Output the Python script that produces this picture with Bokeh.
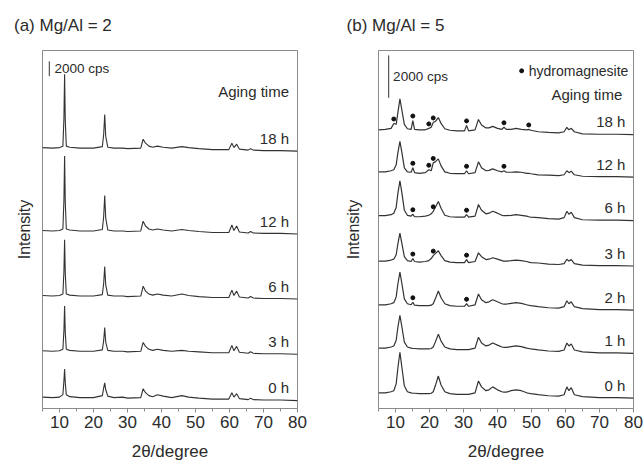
import numpy as np
from bokeh.plotting import figure
from bokeh.layouts import row
from bokeh.models import Range1d, FixedTicker, Label, LinearAxis
from bokeh.embed import file_html
from bokeh.resources import INLINE

FONT = "Liberation Sans"
TXT = "#2b2b2b"
LINE = "#333333"
FRAME = "#8a8a8a"

# ---------------- (a) Mg/Al = 2 ----------------
TWO_THETA_A = [5, 8, 10, 11.0, 11.3, 11.5, 11.7, 12.0, 13, 16, 20, 22.6, 23.0, 23.3, 23.6, 24.2,
               26, 28.6, 30, 33.9, 34.6, 35.3, 36.3, 37.4, 38.8, 40.5, 43, 46, 48, 51, 55,
               59.8, 60.7, 61.3, 62.1, 62.9, 65.5, 66.2, 67, 70, 75, 80]
LABELS_A = ["0 h", "3 h", "6 h", "12 h", "18 h"]
A_0h = [470, 400, 470, 800, 2670, 4270, 2400, 800, 530, 400, 400, 670, 1730, 2400, 1470, 600,
        400, 470, 330, 400, 1600, 1070, 670, 530, 800, 600, 400, 670, 470, 330, 200,
        200, 1070, 470, 930, 270, 130, 330, 130, 70, 70, 0]
A_3h = [470, 400, 470, 670, 3200, 6530, 2930, 670, 530, 400, 400, 600, 1870, 3600, 1600, 530,
        400, 400, 330, 400, 1600, 1070, 670, 530, 670, 530, 400, 530, 400, 330, 200,
        200, 1200, 470, 1070, 270, 130, 330, 130, 70, 70, 0]
A_6h = [470, 400, 470, 670, 3730, 8000, 3470, 670, 530, 400, 400, 600, 2130, 4400, 1870, 530,
        400, 400, 330, 400, 1730, 1070, 670, 530, 670, 530, 400, 670, 470, 330, 200,
        200, 1200, 470, 1070, 270, 130, 330, 130, 70, 70, 0]
A_12h = [470, 400, 470, 670, 4530, 10530, 4270, 670, 530, 400, 400, 600, 2400, 5200, 2130, 530,
         400, 400, 330, 400, 1730, 1070, 670, 530, 670, 530, 400, 600, 470, 330, 200,
         200, 1200, 470, 1070, 270, 130, 330, 130, 70, 70, 0]
A_18h = [470, 400, 470, 670, 4400, 10400, 4130, 670, 530, 400, 400, 600, 2270, 4930, 2000, 530,
         400, 400, 330, 400, 1600, 1070, 670, 530, 670, 530, 400, 600, 470, 330, 200,
         200, 1070, 470, 930, 270, 130, 330, 130, 70, 70, 0]
OFFSETS_A = [1070, 7330, 14800, 23600, 34800]

# ---------------- (b) Mg/Al = 5 ----------------
TWO_THETA_B = [5, 7, 8.7, 9.5, 10.2, 10.7, 11.3, 11.9, 12.6, 13.5, 14.6, 15.1, 15.6, 17, 18.8,
               19.8, 20.5, 21.1, 21.7, 22.6, 23.4, 24.5, 26, 28, 30.3, 30.9, 31.5, 33.4, 34.4, 35.3,
               36.6, 37.5, 38.6, 40, 41.3, 41.9, 42.6, 44, 45.5, 47, 48.6, 49.2, 49.8, 52, 55,
               58, 59.6, 60.4, 61.0, 61.7, 62.6, 65, 70, 75, 80]
LABELS_B = ["0 h", "1 h", "2 h", "3 h", "6 h", "12 h", "18 h"]
B_0h = [230, 230, 280, 330, 650, 1400, 2140, 1400, 560, 280, 230, 210, 210, 190, 190,
        190, 210, 280, 560, 1020, 600, 280, 190, 160, 160, 160, 160, 230, 790, 510,
        330, 370, 510, 370, 280, 260, 260, 330, 370, 330, 230, 210, 190, 140, 90,
        70, 140, 510, 330, 470, 140, 50, 0, 0, -20]
B_1h = [230, 230, 280, 330, 600, 1210, 1770, 1210, 510, 280, 230, 210, 210, 190, 190,
        190, 210, 280, 510, 880, 560, 280, 190, 160, 160, 160, 160, 230, 740, 470,
        330, 370, 470, 370, 280, 260, 260, 300, 330, 300, 230, 210, 190, 140, 90,
        70, 140, 470, 330, 420, 140, 50, 0, 0, -20]
B_2h = [230, 230, 280, 330, 600, 1210, 1770, 1210, 510, 280, 230, 350, 210, 190, 190,
        190, 210, 280, 510, 880, 560, 280, 190, 160, 160, 280, 160, 230, 740, 470,
        330, 370, 470, 370, 280, 260, 260, 300, 330, 300, 230, 210, 190, 140, 90,
        70, 140, 420, 280, 370, 140, 50, 0, 0, -20]
B_3h = [210, 210, 260, 300, 510, 1020, 1530, 1020, 420, 230, 190, 330, 190, 160, 190,
        230, 330, 470, 560, 700, 470, 230, 160, 140, 140, 280, 140, 190, 600, 420,
        280, 300, 370, 300, 230, 210, 210, 230, 260, 230, 190, 160, 140, 120, 70,
        50, 90, 300, 210, 280, 90, 20, 0, 0, -20]
B_6h = [210, 210, 260, 330, 600, 1260, 1860, 1260, 470, 230, 190, 280, 160, 160, 190,
        230, 300, 420, 600, 880, 560, 230, 160, 140, 140, 260, 140, 190, 740, 470,
        300, 330, 420, 330, 230, 210, 210, 230, 260, 230, 190, 160, 140, 120, 70,
        50, 120, 420, 280, 370, 120, 20, 0, 0, -20]
B_12h = [230, 230, 280, 330, 560, 1120, 1670, 1120, 420, 230, 210, 420, 190, 160, 190,
         330, 280, 650, 700, 840, 510, 230, 160, 140, 140, 280, 140, 190, 700, 420,
         280, 300, 370, 280, 230, 280, 210, 210, 230, 210, 160, 160, 140, 90, 70,
         50, 90, 280, 190, 260, 90, 20, 0, 0, -20]
B_18h = [210, 230, 280, 510, 470, 1020, 1670, 1120, 470, 260, 230, 650, 230, 210, 210,
         280, 330, 560, 600, 790, 510, 260, 190, 160, 160, 420, 160, 210, 700, 440,
         300, 300, 370, 280, 230, 330, 230, 230, 280, 230, 210, 230, 190, 120, 90,
         70, 120, 330, 210, 280, 120, 20, 0, 0, -20]
OFFSETS_B = [510, 2620, 4660, 6740, 8880, 10930, 12930]

# hydromagnesite reflections marked on each Mg/Al = 5 pattern (index into LABELS_B)
HM_MARKS = {
    2: [15.1, 30.9],
    3: [15.1, 21.1, 30.9],
    4: [15.1, 21.1, 30.9],
    5: [15.1, 19.8, 21.1, 30.9, 41.9],
    6: [9.5, 15.1, 19.8, 21.1, 30.9, 41.9, 49.2],
}

SERIES_A = [A_0h, A_3h, A_6h, A_12h, A_18h]
SERIES_B = [B_0h, B_1h, B_2h, B_3h, B_6h, B_12h, B_18h]
for s in SERIES_A:
    assert len(s) == len(TWO_THETA_A)
for s in SERIES_B:
    assert len(s) == len(TWO_THETA_B)

X_TICKS = [10, 20, 30, 40, 50, 60, 70, 80]
X_MINOR = [5, 15, 25, 35, 45, 55, 65, 75]


def make_panel(width, bl, br, ymax, label_standoff, title, title_at):
    p = figure(width=width, height=463, output_backend="svg", toolbar_location=None,
               x_range=Range1d(5, 80), y_range=Range1d(0, ymax),
               min_border_left=bl, min_border_right=br, min_border_top=50, min_border_bottom=50)
    p.grid.visible = False
    p.outline_line_color = FRAME
    p.outline_line_width = 1
    p.background_fill_color = "white"
    p.border_fill_color = "white"
    # panel heading, drawn as the single label of a bare top axis
    tax = LinearAxis(ticker=FixedTicker(ticks=[title_at]),
                     major_label_overrides={title_at: title},
                     axis_line_color=None, major_tick_line_color=None,
                     minor_tick_line_color=None, major_tick_out=0, major_tick_in=0,
                     major_label_standoff=16, major_label_text_font=FONT,
                     major_label_text_font_size="17px", major_label_text_color=TXT)
    p.add_layout(tax, "above")
    xa = p.xaxis[0] if p.xaxis[0] is not tax else p.xaxis[1]
    for a in p.below:
        xa = a
    xa.ticker = FixedTicker(ticks=X_TICKS, minor_ticks=X_MINOR)
    xa.axis_line_color = FRAME
    xa.major_tick_line_color = FRAME
    xa.minor_tick_line_color = FRAME
    xa.major_tick_out = 4
    xa.major_tick_in = 0
    xa.minor_tick_out = 3
    xa.minor_tick_in = 0
    xa.major_label_text_font = FONT
    xa.major_label_text_font_size = "17px"
    xa.major_label_text_color = TXT
    xa.major_label_standoff = 3
    xa.axis_label = "2θ/degree"
    xa.axis_label_text_font = FONT
    xa.axis_label_text_font_size = "17px"
    xa.axis_label_text_font_style = "normal"
    xa.axis_label_text_color = TXT
    xa.axis_label_standoff = 11
    ya = p.left[0]
    ya.ticker = FixedTicker(ticks=[])
    ya.axis_line_color = None
    ya.major_tick_line_color = None
    ya.minor_tick_line_color = None
    ya.major_label_text_font_size = "0px"
    ya.major_label_standoff = 0
    ya.axis_label = "Intensity"
    ya.axis_label_text_font = FONT
    ya.axis_label_text_font_size = "16px"
    ya.axis_label_text_font_style = "normal"
    ya.axis_label_text_color = TXT
    ya.axis_label_standoff = label_standoff
    return p


def add_text(p, x, y, text, size, align="left"):
    p.add_layout(Label(x=x, y=y, text=text, text_font=FONT, text_font_size=size,
                       text_color=TXT, text_align=align, text_baseline="middle"))


# ---- panel (a)
pa = make_panel(336, 42, 39, 48400, 10, "(a) Mg/Al = 2", 11)
for vals, off, lab in zip(SERIES_A, OFFSETS_A, LABELS_A):
    pa.line(TWO_THETA_A, np.array(vals) + off, line_color=LINE, line_width=1.1)
    add_text(pa, 77.5, off + 1730, lab, "15px", "right")
pa.segment(x0=[7.0], y0=[44930], x1=[7.0], y1=[44930 + 2000], line_color=LINE, line_width=1)
add_text(pa, 8.5, 46000, "2000 cps", "13.5px")
add_text(pa, 77.5, 42800, "Aging time", "15px", "right")

# ---- panel (b)
pb = make_panel(308, 42, 11, 16880, 17, "(b) Mg/Al = 5", 10)
for i, (vals, off, lab) in enumerate(zip(SERIES_B, OFFSETS_B, LABELS_B)):
    pb.line(TWO_THETA_B, np.array(vals) + off, line_color=LINE, line_width=1.2)
    add_text(pb, 77.6, off + 580, lab, "15px", "right")
    if i in HM_MARKS:
        xs = HM_MARKS[i]
        ys = [vals[TWO_THETA_B.index(x)] + off + 210 for x in xs]
        pb.scatter(xs, ys, size=4, marker="circle", fill_color="#111111", line_color="#111111")
pb.segment(x0=[8.0], y0=[14650], x1=[8.0], y1=[14650 + 2000], line_color=LINE, line_width=1)
add_text(pb, 9.3, 15670, "2000 cps", "13.5px")
pb.scatter([47.1], [15920], size=4, marker="circle", fill_color="#111111", line_color="#111111")
add_text(pb, 49.2, 15920, "hydromagnesite", "14px")
add_text(pb, 76.7, 14790, "Aging time", "15px", "right")

layout = row(pa, pb)
open("out.html", "w").write(file_html(layout, INLINE))
